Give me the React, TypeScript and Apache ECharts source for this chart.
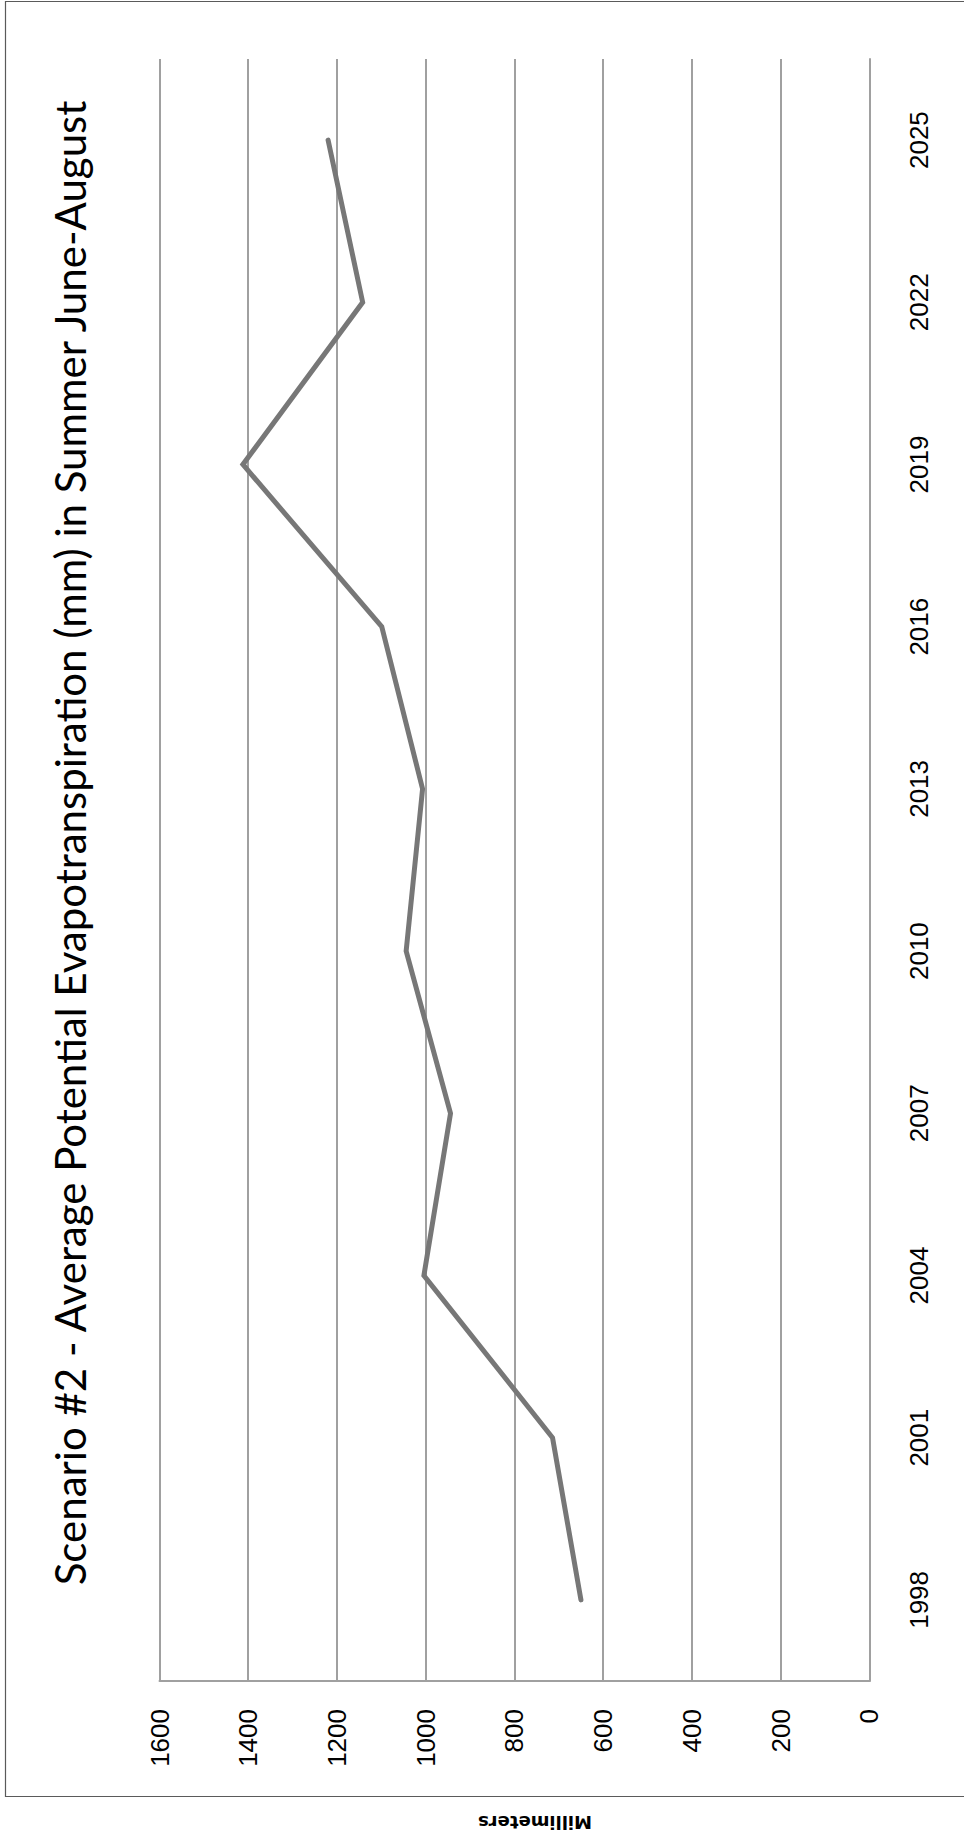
import React, { useEffect, useRef } from "react";
import * as echarts from "echarts";

// Annual category slots along the (vertical) time axis
const years = [
  "1997", "1998", "1999", "2000", "2001", "2002", "2003", "2004", "2005", "2006",
  "2007", "2008", "2009", "2010", "2011", "2012", "2013", "2014", "2015", "2016",
  "2017", "2018", "2019", "2020", "2021", "2022", "2023", "2024", "2025", "2026",
];

// Average potential evapotranspiration (mm), one value every three years
const evapotranspiration: (number | null)[] = [
  null, 650, null, null, 714, null, null, 1004, null, null,
  944, null, null, 1044, null, null, 1007, null, null, 1099,
  null, null, 1412, null, null, 1142, null, null, 1220, null,
];

const valueTicks = { min: 0, max: 1600, interval: 200 };

const titleText =
  "Scenario #2 - Average Potential Evapotranspiration (mm) in Summer June-August";
const axisTitle = "Millimeters";

export default function App() {
  const ref = useRef<HTMLDivElement>(null);

  useEffect(() => {
    if (!ref.current) return;
    const chart = echarts.init(ref.current, undefined, { renderer: "svg" });
    const gridColor = "#a0a0a0";
    chart.setOption({
      animation: false,
      backgroundColor: "#ffffff",
      grid: { left: 159.5, right: 94.7, top: 59, bottom: 154 },
      xAxis: {
        type: "value",
        inverse: true,
        position: "bottom",
        min: valueTicks.min,
        max: valueTicks.max,
        interval: valueTicks.interval,
        axisLine: { show: true, lineStyle: { color: gridColor, width: 2 } },
        axisTick: { show: false },
        splitLine: { show: true, lineStyle: { color: gridColor, width: 2 } },
        axisLabel: {
          rotate: 90,
          margin: 28,
          color: "#000000",
          fontFamily: "Liberation Sans",
          fontSize: 26,
          formatter: (v: number) => String(v),
        },
      },
      yAxis: {
        type: "category",
        data: years,
        position: "right",
        boundaryGap: true,
        axisLine: { show: true, lineStyle: { color: gridColor, width: 2 } },
        axisTick: { show: false },
        splitLine: { show: false },
        axisLabel: {
          rotate: 90,
          margin: 37,
          interval: (index: number) => index % 3 === 1,
          color: "#000000",
          fontFamily: "Liberation Sans",
          fontSize: 26,
        },
      },
      series: [
        {
          type: "line",
          data: evapotranspiration,
          connectNulls: true,
          showSymbol: false,
          symbol: "none",
          lineStyle: { color: "#777777", width: 5, cap: "round", join: "miter" },
        },
      ],
      graphic: [
        {
          type: "rect",
          shape: { x: 5.5, y: 1.5, width: 970, height: 1795 },
          style: { fill: "none", stroke: "#5a5a5a", lineWidth: 1.2 },
          silent: true,
        },
        {
          type: "text",
          x: 70,
          y: 843,
          rotation: Math.PI / 2,
          style: {
            text: titleText,
            fontFamily: "Lato",
            fontSize: 42,
            fill: "#000000",
            textAlign: "center",
            textVerticalAlign: "middle",
          },
        },
        {
          type: "text",
          x: 535,
          y: 1822,
          rotation: Math.PI,
          style: {
            text: axisTitle,
            fontFamily: "DejaVu Sans",
            fontWeight: "bold",
            fontSize: 18,
            fill: "#000000",
            textAlign: "center",
            textVerticalAlign: "middle",
          },
        },
      ],
    });
    return () => chart.dispose();
  }, []);

  return (
    <div
      ref={ref}
      style={{ position: "absolute", left: 0, top: 0, width: 964, height: 1835 }}
    />
  );
}
